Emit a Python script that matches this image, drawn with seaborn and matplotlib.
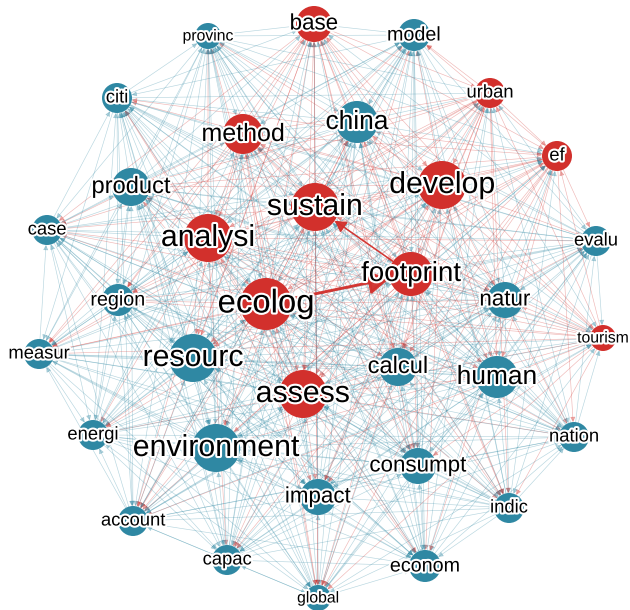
import itertools

import matplotlib
matplotlib.use("Agg")
import matplotlib.pyplot as plt
import matplotlib.patheffects as pe
from matplotlib.patches import FancyArrowPatch
import numpy as np
import pandas as pd
import seaborn as sns

# Stemmed keywords of the co-occurrence network
terms = ["ecolog", "assess", "sustain", "analysi", "footprint", "develop",
         "environment", "resourc", "china", "human", "method", "calcul",
         "base", "impact", "consumpt", "product", "natur", "model", "urban",
         "econom", "region", "energi", "account", "capac", "measur",
         "nation", "indic", "citi", "case", "evalu", "ef", "provinc",
         "global", "tourism"]

# Community membership (two modularity classes)
cluster = ["core", "core", "core", "core", "core", "core",
           "context", "context", "context", "context", "core", "context",
           "core", "context", "context", "context", "context", "context", "core",
           "context", "context", "context", "context", "context", "context",
           "context", "context", "context", "context", "context", "core", "context",
           "context", "core"]

# Node weight (weighted degree, scaled)
weight = [26, 24, 24, 24, 22, 24,
          24, 24, 21, 21, 20, 19,
          18, 18, 18, 19, 18, 16, 15,
          16, 16, 15, 15, 15, 15,
          15, 15, 15, 15, 15, 15, 13,
          13, 13]

# Strong directed links drawn on top of the background mesh
strong_src = ["ecolog", "footprint"]
strong_dst = ["footprint", "sustain"]
strong_w = [2.6, 1.4]

# Force-directed layout coordinates
layout_x = [266, 303, 315, 208, 411, 442,
            216, 193, 357, 497, 243, 398,
            314, 318, 418, 131, 505, 414, 490,
            425, 118, 93, 133, 227, 39,
            574, 509, 117, 47, 596, 557, 208,
            318, 603]
layout_y = [304, 394, 207, 238, 274, 185,
            448, 358, 122, 377, 134, 367,
            24, 497, 466, 187, 300, 35, 93,
            566, 300, 435, 521, 560, 354,
            437, 508, 98, 230, 241, 156, 36,
            598, 338]

palette = {"core": "#d2302c", "context": "#2f88a3"}
PX2PT = 72 / 100

sns.set_theme(style="white")
plt.rcParams["font.family"] = ["Liberation Sans", "DejaVu Sans"]

nodes = pd.DataFrame({"term": terms, "cluster": cluster, "weight": weight,
                      "x": layout_x, "y": layout_y})
nodes["area"] = (2 * nodes["weight"] * PX2PT) ** 2
nodes["font"] = 0.95 * nodes["weight"] - 1.0
idx = {t: i for i, t in enumerate(terms)}

fig = plt.figure(figsize=(6.3, 6.1), dpi=100)
ax = fig.add_axes([0, 0, 1, 1])
ax.set_xlim(0, 630)
ax.set_ylim(610, 0)

# Background mesh of co-occurrence links; a link takes its source colour
for i, j in itertools.combinations(range(len(terms)), 2):
    src, dst = (j, i) if (i + j) % 2 else (i, j)
    col = palette[cluster[src]]
    arr = FancyArrowPatch((layout_x[src], layout_y[src]),
                          (layout_x[dst], layout_y[dst]),
                          arrowstyle="-|>,head_length=0.5,head_width=0.25",
                          mutation_scale=6, lw=0.45, color=col, alpha=0.35,
                          shrinkA=weight[src] * PX2PT,
                          shrinkB=weight[dst] * PX2PT, zorder=1)
    ax.add_patch(arr)

for s, d, w in zip(strong_src, strong_dst, strong_w):
    i, j = idx[s], idx[d]
    arr = FancyArrowPatch((layout_x[i], layout_y[i]), (layout_x[j], layout_y[j]),
                          arrowstyle="-|>,head_length=0.8,head_width=0.45",
                          mutation_scale=6 * w, lw=w * 0.8, color=palette["core"],
                          alpha=0.95, shrinkA=weight[i] * PX2PT,
                          shrinkB=weight[j] * PX2PT, zorder=2)
    ax.add_patch(arr)

sns.scatterplot(data=nodes, x="x", y="y", hue="cluster", palette=palette,
                size="area", sizes=(nodes["area"].min(), nodes["area"].max()),
                size_norm=(nodes["area"].min(), nodes["area"].max()),
                linewidth=0, legend=False, ax=ax, zorder=3)

halo = [pe.withStroke(linewidth=3, foreground="white")]
for _, row in nodes.iterrows():
    ax.text(row["x"], row["y"], row["term"], fontsize=row["font"],
            ha="center", va="center", color="black", zorder=4,
            path_effects=halo)

ax.axis("off")
fig.savefig("out.png", dpi=100, facecolor="white")
